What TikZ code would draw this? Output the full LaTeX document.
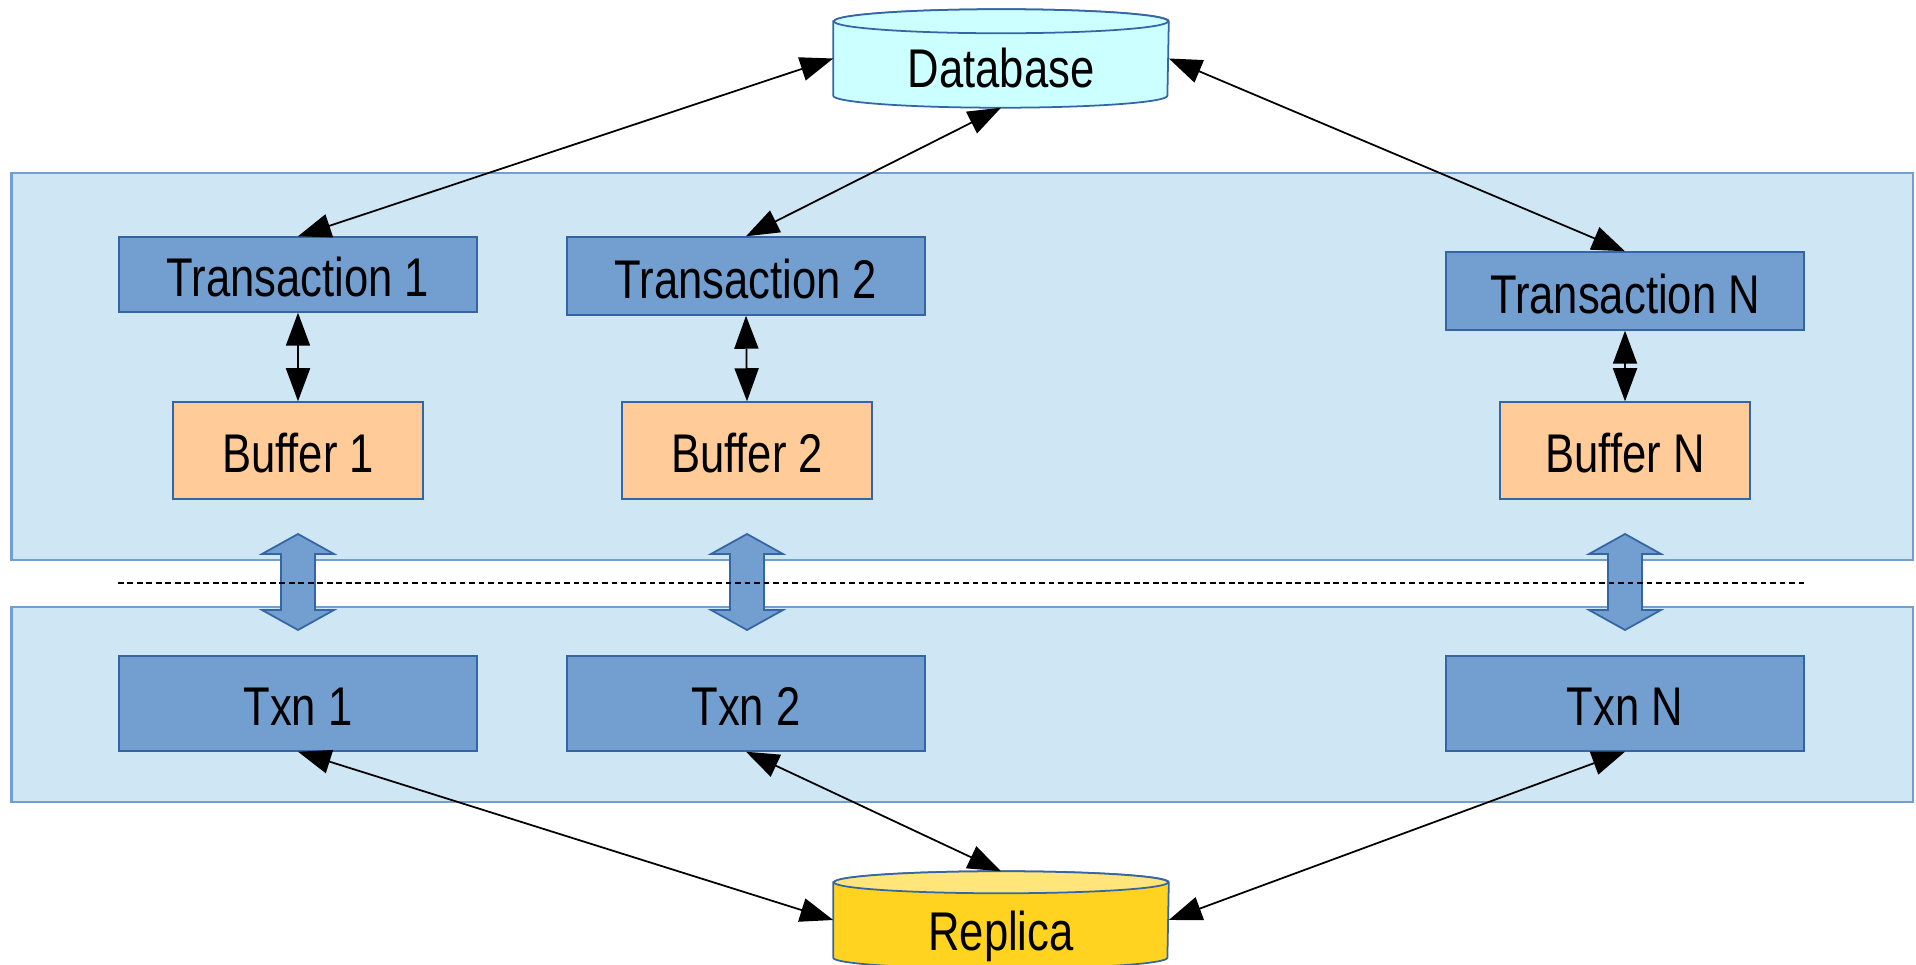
\documentclass[tikz,border=0pt]{standalone}
\usepackage{fontspec}
\setmainfont{Liberation Sans}[FakeStretch=0.8]
\usetikzlibrary{arrows.meta}
\definecolor{panelfill}{HTML}{CFE6F4}
\definecolor{panelline}{HTML}{729FCF}
\definecolor{boxfill}{HTML}{729FCF}
\definecolor{boxline}{HTML}{3465A4}
\definecolor{buffill}{HTML}{FFCC99}
\definecolor{dbfill}{HTML}{CCFFFF}
\definecolor{repfill}{HTML}{FFD320}
\definecolor{reptop}{HTML}{FFE57A}
\begin{document}
\begin{tikzpicture}[x=0.01cm,y=-0.01cm,
  font=\fontsize{15.5}{18}\selectfont,
  panel/.style={draw=panelline,fill=panelfill,line width=0.6pt,minimum width=19cm,inner sep=0pt},
  tbox/.style={draw=boxline,fill=boxfill,line width=0.4pt,minimum width=3.58cm,inner sep=0pt,text height=0.44cm,text depth=0pt},
  bufbox/.style={draw=boxline,fill=buffill,line width=0.4pt,minimum width=2.5cm,minimum height=0.97cm,inner sep=0pt,text height=0.44cm,text depth=0pt},
  cylnode/.style={minimum width=3.34cm,inner sep=0pt},
  conn/.style={draw=black,line width=0.5pt,{Triangle[length=0.33cm,width=0.24cm]}-{Triangle[length=0.33cm,width=0.24cm]}},
  blockarrow/.style={draw=boxline,fill=boxfill,line width=0.5pt},
  sep/.style={draw=black,line width=0.5pt,dash pattern=on 1.6pt off 1.1pt}]
\useasboundingbox (0,0) rectangle (1916,965);

% panels
\node[panel,minimum height=3.87cm] (upper) at (962,366.5) {};
\node[panel,minimum height=1.95cm] (lower) at (962,704.5) {};

% database cylinder
\node[cylnode,minimum height=0.97cm] (db) at (1001,58.5) {};
\filldraw[fill=dbfill,draw=boxline,line width=0.5pt]
  ([yshift=-0.12cm]db.north west) -- ([yshift=0.12cm]db.south west)
  arc[start angle=180,end angle=360,x radius=1.67cm,y radius=0.12cm]
  -- ([yshift=-0.12cm]db.north east)
  arc[start angle=0,end angle=180,x radius=1.67cm,y radius=0.12cm] -- cycle;
\filldraw[fill=dbfill,draw=boxline,line width=0.5pt]
  ([yshift=-0.12cm]db.north) ellipse[x radius=1.67cm,y radius=0.12cm];
\node[anchor=base] (dbtext) at (1001,88) {Database};

% replica cylinder
\node[cylnode,minimum height=0.96cm] (rep) at (1001,920) {};
\filldraw[fill=repfill,draw=boxline,line width=0.5pt]
  ([yshift=-0.11cm]rep.north west) -- ([yshift=0.11cm]rep.south west)
  arc[start angle=180,end angle=360,x radius=1.67cm,y radius=0.11cm]
  -- ([yshift=-0.11cm]rep.north east)
  arc[start angle=0,end angle=180,x radius=1.67cm,y radius=0.11cm] -- cycle;
\filldraw[fill=reptop,draw=boxline,line width=0.5pt]
  ([yshift=-0.11cm]rep.north) ellipse[x radius=1.67cm,y radius=0.11cm];
\node[anchor=base] (reptext) at (1001,950) {Replica};

% transaction boxes
\node[tbox,minimum height=0.75cm] (t1) at (298,274.5) {Transaction 1};
\node[tbox,minimum height=0.78cm] (t2) at (746,276) {Transaction 2};
\node[tbox,minimum height=0.78cm] (tn) at (1625,291) {Transaction N};

% buffers
\node[bufbox] (b1) at (298,450.5) {Buffer 1};
\node[bufbox] (b2) at (747,450.5) {Buffer 2};
\node[bufbox] (bn) at (1625,450.5) {Buffer N};

% txn boxes
\node[tbox,minimum height=0.95cm] (x1) at (298,703.5) {Txn 1};
\node[tbox,minimum height=0.95cm] (x2) at (746,703.5) {Txn 2};
\node[tbox,minimum height=0.95cm] (xn) at (1625,703.5) {Txn N};

% block arrows between layers
\foreach \c in {298,747,1625}{
  \draw[blockarrow] (\c,534) -- (\c+36,554) -- (\c+17,554) -- (\c+17,610)
    -- (\c+36,610) -- (\c,630) -- (\c-36,610) -- (\c-17,610) -- (\c-17,554)
    -- (\c-36,554) -- cycle;
}
\coordinate (sepl) at (118,583);
\coordinate (sepr) at (1805,583);
\draw[sep] (sepl) -- (sepr);

% connectors
\draw[conn] (db.west) -- (t1.north);
\draw[conn] (db.south) -- (t2.north);
\draw[conn] (db.east) -- (tn.north);
\draw[conn] (t1.south) -- (b1.north);
\draw[conn] (t2.south) -- (b2.north);
\draw[conn] (tn.south) -- (bn.north);
\draw[conn] (x1.south) -- (rep.west);
\draw[conn] (x2.south) -- (rep.north);
\draw[conn] (xn.south) -- (rep.east);
\end{tikzpicture}
\end{document}
